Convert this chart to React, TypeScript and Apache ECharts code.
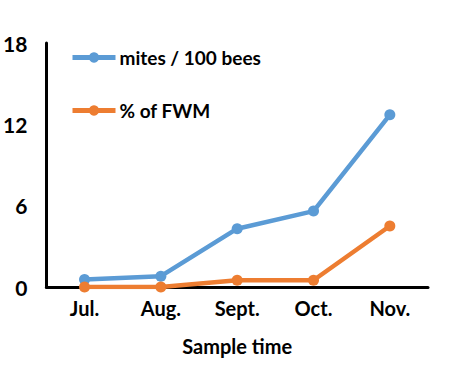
import React, { useEffect, useRef } from "react";
import * as echarts from "echarts";

const categories = ["Jul.", "Aug.", "Sept.", "Oct.", "Nov."];
const mites = [0.55, 0.8, 4.3, 5.6, 12.7];
const fwm = [0, 0, 0.5, 0.5, 4.5];
const yTicks = [0, 6, 12, 18];

export default function App() {
  const ref = useRef<HTMLDivElement>(null);
  useEffect(() => {
    const chart = echarts.init(ref.current!, null, { renderer: "svg" });
    const font = "Lato, 'Open Sans', sans-serif";
    chart.setOption({
      animation: false,
      backgroundColor: "#ffffff",
      grid: { left: 46, right: 32, top: 43, bottom: 82 },
      legend: {
        orient: "vertical",
        left: 70,
        top: 48,
        padding: 0,
        itemWidth: 43,
        itemHeight: 13,
        itemGap: 34,
        lineStyle: { width: 5 },
        textStyle: { fontFamily: font, fontWeight: "bold", fontSize: 19, color: "#000", padding: [0, 0, 0, -1] },
        data: ["mites / 100 bees", "% of FWM"],
      },
      xAxis: {
        type: "category",
        data: categories,
        boundaryGap: true,
        name: "Sample time",
        nameLocation: "middle",
        nameGap: 49,
        nameTextStyle: { fontFamily: font, fontWeight: "bold", fontSize: 20, color: "#000" },
        axisLine: { lineStyle: { color: "#000", width: 3 } },
        axisTick: { show: false },
        axisLabel: { fontFamily: font, fontWeight: "bold", fontSize: 20, color: "#000", margin: 11 },
      },
      yAxis: {
        type: "value",
        min: yTicks[0],
        max: yTicks[yTicks.length - 1],
        interval: 6,
        axisLine: { show: true, lineStyle: { color: "#000", width: 3 } },
        axisTick: { show: false },
        splitLine: { show: false },
        axisLabel: { fontFamily: font, fontWeight: "bold", fontSize: 21, color: "#000", margin: 19 },
      },
      series: [
        {
          name: "mites / 100 bees",
          type: "line",
          data: mites,
          symbol: "circle",
          symbolSize: 11,
          lineStyle: { width: 4.5, color: "#5B9BD5" },
          itemStyle: { color: "#5B9BD5" },
        },
        {
          name: "% of FWM",
          type: "line",
          data: fwm,
          symbol: "circle",
          symbolSize: 11,
          lineStyle: { width: 4.5, color: "#ED7D31" },
          itemStyle: { color: "#ED7D31" },
        },
      ],
    });
    return () => chart.dispose();
  }, []);
  return <div ref={ref} style={{ width: 460, height: 369, position: "absolute", left: 0, top: 0 }} />;
}
